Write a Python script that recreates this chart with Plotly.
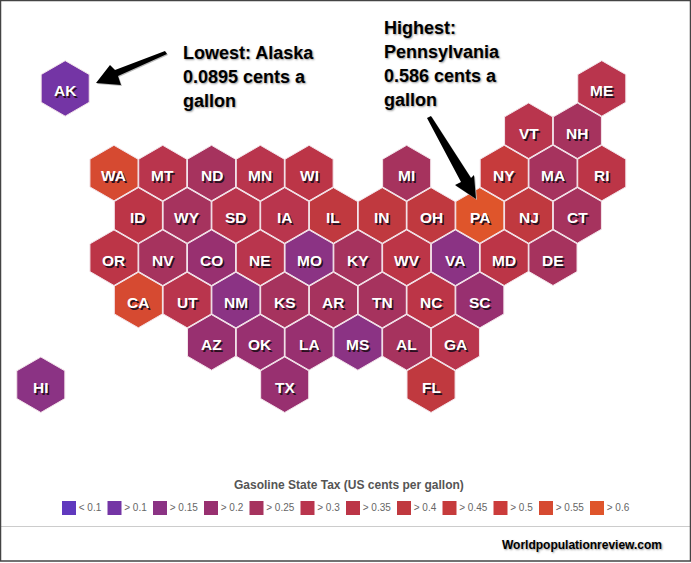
import plotly.graph_objects as go

# hex map grid: col is in half-hex steps, row is counted from the top
states = ['AK', 'ME', 'VT', 'NH', 'WA', 'MT', 'ND', 'MN', 'WI', 'MI', 'NY', 'MA', 'RI',
          'ID', 'WY', 'SD', 'IA', 'IL', 'IN', 'OH', 'PA', 'NJ', 'CT',
          'OR', 'NV', 'CO', 'NE', 'MO', 'KY', 'WV', 'VA', 'MD', 'DE',
          'CA', 'UT', 'NM', 'KS', 'AR', 'TN', 'NC', 'SC',
          'AZ', 'OK', 'LA', 'MS', 'AL', 'GA', 'HI', 'TX', 'FL']
cols = [1, 23, 20, 22, 3, 5, 7, 9, 11, 15, 19, 21, 23,
        4, 6, 8, 10, 12, 14, 16, 18, 20, 22,
        3, 5, 7, 9, 11, 13, 15, 17, 19, 21,
        4, 6, 8, 10, 12, 14, 16, 18,
        7, 9, 11, 13, 15, 17, 0, 10, 16]
rows = [0, 0, 1, 1, 2, 2, 2, 2, 2, 2, 2, 2, 2,
        3, 3, 3, 3, 3, 3, 3, 3, 3, 3,
        4, 4, 4, 4, 4, 4, 4, 4, 4, 4,
        5, 5, 5, 5, 5, 5, 5, 5,
        6, 6, 6, 6, 6, 6, 7, 7, 7]
tax = [0.0895, 0.30, 0.30, 0.24, 0.53, 0.32, 0.23, 0.29, 0.33, 0.26, 0.44, 0.26, 0.35,
       0.33, 0.24, 0.30, 0.31, 0.39, 0.42, 0.385, 0.586, 0.41, 0.26,
       0.36, 0.24, 0.22, 0.30, 0.17, 0.26, 0.36, 0.16, 0.36, 0.23,
       0.53, 0.31, 0.17, 0.24, 0.25, 0.27, 0.36, 0.21,
       0.19, 0.20, 0.20, 0.17, 0.25, 0.29, 0.16, 0.20, 0.42]

bin_labels = ['< 0.1', '> 0.1', '> 0.15', '> 0.2', '> 0.25', '> 0.3',
              '> 0.35', '> 0.4', '> 0.45', '> 0.5', '> 0.55', '> 0.6']
bin_colors = ['#6039BE', '#7435A5', '#8B3384', '#983070', '#A6335E', '#B9354D',
              '#BC3547', '#C0393F', '#C63B3C', '#CB3C3B', '#D64A31', '#DF552B']

W, H = 691, 563
FONT = 'Liberation Sans'


def bin_color(v):
    # legend colours go with the nearest 0.05 step
    return bin_colors[max(0, round(v / 0.05) - 1)]


# legend swatches are laid out from the label lengths
legend_x = []
pos = 69
for lab in bin_labels:
    legend_x.append(pos)
    pos += 45.5 if len(lab) == 5 else 51


def poly(points):
    return 'M ' + ' L '.join(f'{x / W:.5f},{1 - y / H:.5f}' for x, y in points) + ' Z'


arrow_low = [(96, 83), (110, 65), (115, 70), (165, 51), (167, 54), (118, 76), (121, 85)]
arrow_high = [(476, 199), (455, 185), (461, 182), (427, 118), (431, 116), (471, 178), (474, 175)]

fig = go.Figure()
fig.add_trace(go.Scatter(
    x=cols, y=rows, mode='markers',
    marker=dict(symbol='hexagon', size=55.5, color=[bin_color(v) for v in tax],
                line=dict(color='#F3E4EA', width=1)),
    hovertext=states, hoverinfo='text', showlegend=False))
fig.add_trace(go.Scatter(
    x=legend_x, y=[508] * 12, xaxis='x2', yaxis='y2', text=bin_labels, mode='markers+text',
    marker=dict(symbol='square', size=14, color=bin_colors, line=dict(width=0)),
    textposition='middle right',
    textfont=dict(family=FONT, size=10, color='#666666'),
    hoverinfo='skip', showlegend=False))

annotations = []
# state labels sit a little under the middle of each hexagon
for st, c, r in zip(states, cols, rows):
    annotations.append(dict(text=st, x=c, y=r, xref='x', yref='y', showarrow=False, yshift=-2.5,
                            font=dict(family=FONT, size=15.5, color='white', weight='bold',
                                      shadow='1.5px 1.5px 0px #2a1020')))
text_shadow = '1px 1px 2px #999999'
for txt, x, y in [('Lowest: Alaska', 183, 53), ('0.0895 cents a', 183, 77), ('gallon', 183, 101),
                  ('Highest:', 384, 28), ('Pennsylvania', 384, 52), ('0.586 cents a', 384, 76),
                  ('gallon', 384, 100)]:
    annotations.append(dict(text=txt, xref='paper', yref='paper', x=x / W, y=1 - y / H,
                            xanchor='left', yanchor='middle', showarrow=False,
                            xshift=-2,
                            font=dict(family=FONT, size=18, color='black', weight='bold', shadow=text_shadow)))
annotations.append(dict(text='Gasoline State Tax (US cents per gallon)', xref='paper', yref='paper',
                        x=348.5 / W, y=1 - 485 / H, yanchor='middle', showarrow=False,
                        font=dict(family=FONT, size=12, color='#555555', weight='bold')))
annotations.append(dict(text='Worldpopulationreview.com', xref='paper', yref='paper',
                        x=664 / W, y=1 - 545 / H, xanchor='right', yanchor='middle', showarrow=False,
                        font=dict(family=FONT, size=12, color='black', weight='bold', shadow=text_shadow)))

shapes = [
    dict(type='path', path=poly([(x + 1, y + 1) for x, y in arrow_low]), xref='paper', yref='paper',
         fillcolor='#bbbbbb', line=dict(width=0)),
    dict(type='path', path=poly(arrow_low), xref='paper', yref='paper', fillcolor='black', line=dict(width=0)),
    dict(type='path', path=poly([(x + 1, y + 1) for x, y in arrow_high]), xref='paper', yref='paper',
         fillcolor='#bbbbbb', line=dict(width=0)),
    dict(type='path', path=poly(arrow_high), xref='paper', yref='paper', fillcolor='black', line=dict(width=0)),
    dict(type='line', xref='paper', yref='paper', x0=0, x1=1, y0=1 - 526.5 / H, y1=1 - 526.5 / H,
         line=dict(color='#cccccc', width=1)),
    dict(type='rect', xref='paper', yref='paper', x0=0.5 / W, x1=690.5 / W, y0=1 - 561 / H, y1=1 - 0.5 / H,
         line=dict(color='#444444', width=1.5)),
]

fig.update_layout(
    width=W, height=H, autosize=False,
    margin=dict(l=0, r=0, t=0, b=0),
    paper_bgcolor='white', plot_bgcolor='white',
    # axes fitted so the hex grid lands where the map sits in the picture
    xaxis=dict(visible=False, range=[-40.8 / 24.39, (W - 40.8) / 24.39], fixedrange=True),
    yaxis=dict(visible=False, range=[(H - 88.4) / 42.33, -88.4 / 42.33], fixedrange=True),
    xaxis2=dict(visible=False, range=[0, W], overlaying='x', anchor='y2', fixedrange=True),
    yaxis2=dict(visible=False, range=[H, 0], overlaying='y', anchor='x2', fixedrange=True),
    annotations=annotations, shapes=shapes,
)

fig.write_html('out.html', config={'displayModeBar': False},
               post_script="document.body.style.margin='0';")
